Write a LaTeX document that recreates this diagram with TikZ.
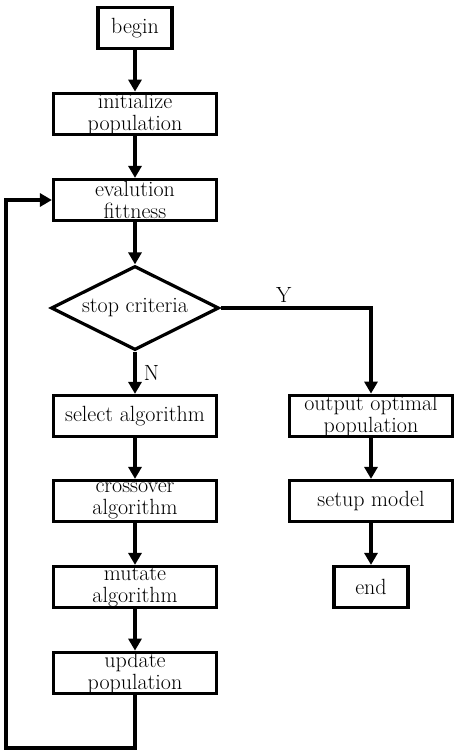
\documentclass[tikz,border=0pt]{standalone}
\usetikzlibrary{arrows.meta,shapes.geometric}

\begin{document}
\begin{tikzpicture}[
  x=1pt,y=1pt,
  font=\fontsize{22}{22}\selectfont,
  >={Triangle[length=12pt,width=13pt]},
  box/.style={draw=black,line width=3.2pt,align=center,inner sep=0pt,minimum width=163pt,minimum height=41pt},
  small/.style={box,minimum width=74pt},
  dec/.style={diamond,draw=black,line width=3.2pt,inner sep=0pt,aspect=2,minimum width=168pt,minimum height=84pt},
  flow/.style={->,line width=3.2pt},
]
\useasboundingbox (0,0) rectangle (454,-755);

% ---------- MAIN COLUMN ----------
\node[small] (begin) at (135,-28) {begin};
\node[box] (init) at (135,-114) {initialize\\population};
\node[box] (eval) at (135,-200) {evalution\\fittness};
\node[dec] (stop) at (135,-308) {stop criteria};
\node[box] (select) at (135,-416) {select algorithm};
\node[box] (cross) at (135,-501) {crossover\\algorithm};
\node[box] (mutate) at (135,-587) {mutate\\algorithm};
\node[box] (update) at (135,-673) {update\\population};

% ---------- OUTPUT COLUMN ----------
\node[box] (out) at (371,-416) {output optimal\\population};
\node[box] (setup) at (371,-501) {setup model};
\node[small] (end) at (371,-587) {end};

% ---------- ARROWS ----------
\draw[flow] (begin) -- (init);
\draw[flow] (init) -- (eval);
\draw[flow] (eval) -- (stop);
\draw[flow] (stop) -- (select) node[midway,right=4pt] {N};
\draw[flow] (select) -- (cross);
\draw[flow] (cross) -- (mutate);
\draw[flow] (mutate) -- (update);
\draw[flow] (stop.east) -| (out.north) node[pos=0.21,above=1pt] {Y};
\draw[flow] (out) -- (setup);
\draw[flow] (setup) -- (end);

% loop back to evaluation
\coordinate (lb) at (6,-748);
\draw[flow] (update.south) |- (lb) |- (eval.west);

\end{tikzpicture}
\end{document}
